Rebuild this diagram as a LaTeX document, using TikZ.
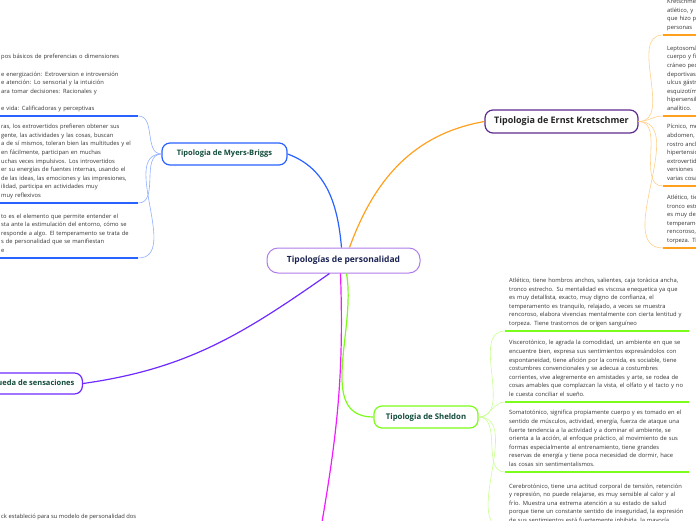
\documentclass[tikz,border=0pt]{standalone}
\usepackage{fontspec}
\setmainfont{Open Sans}
\usepackage{tikz}
\definecolor{rootline}{HTML}{B07CE8}
\definecolor{roottext}{HTML}{1C2452}
\definecolor{topictext}{HTML}{114B3A}
\definecolor{bodytext}{HTML}{333333}
\definecolor{mbblue}{HTML}{2962FF}
\definecolor{mbsoft}{HTML}{8FAFFF}
\definecolor{krorange}{HTML}{FFA01E}
\definecolor{krsoft}{HTML}{FFD08A}
\definecolor{krframe}{HTML}{5E2A8E}
\definecolor{shgreen}{HTML}{7CFC1A}
\definecolor{shsoft}{HTML}{C8FF90}
\definecolor{bsviolet}{HTML}{6F2BFF}
\definecolor{eymagenta}{HTML}{F01CFF}

\begin{document}
\begin{tikzpicture}[x=1pt, y=1pt,
  topic/.style={draw, line width=1.2pt, rounded corners=8pt, fill=white, inner sep=2pt, minimum height=22pt, text=topictext, font=\fontsize{7.5}{9}\selectfont\bfseries},
  block/.style={anchor=south west, align=left, text width=#1, inner xsep=4pt, inner ysep=2.8pt, text=bodytext, font=\fontsize{5.8}{8.6}\selectfont, execute at end node=\strut},
  block/.default=150pt,
  branch/.style={line width=1.2pt},
  twig/.style={line width=0.6pt},
  underbar/.style={line width=2pt}]
  \useasboundingbox (0,0) rectangle (696,-520);

  \node[topic, draw=rootline, line width=1pt, rounded corners=11pt, minimum width=153pt, minimum height=25pt, text=roottext, font=\fontsize{8.5}{10}\selectfont\bfseries] (ctr) at (343.5,-260.5) {Tipologías de personalidad};
  \node[topic, draw=mbblue, minimum width=125pt] (mb) at (224.5,-154) {Tipologia de Myers-Briggs};
  \node[topic, draw=krframe, minimum width=153pt, minimum height=23pt, text=bodytext!70!black, font=\fontsize{9}{11}\selectfont\bfseries] (kr) at (561.5,-121.5) {Tipologia de Ernst Kretschmer};
  \node[topic, draw=shgreen, minimum width=104pt, font=\fontsize{7.8}{9}\selectfont\bfseries] (sh) at (426,-417) {Tipologia de Sheldon};
  \node[topic, draw=bsviolet, anchor=east, minimum height=21pt, inner xsep=8pt] (bs) at (83,-383.5) {Búsqueda de sensaciones};
  \coordinate (ey) at (318,-545);

  \draw[branch, mbblue] ([xshift=-2pt]ctr.north) to[out=95, in=-20] (mb.east);
  \draw[branch, krorange] ([xshift=6pt]ctr.north) to[out=70, in=190] (kr.west);
  \draw[branch, bsviolet] ([xshift=-14pt]ctr.south) to[out=215, in=8] (bs.east);
  \draw[branch, eymagenta] ([xshift=-3pt]ctr.south) to[out=-88, in=80] (ey);
  \draw[branch, shgreen] ([xshift=3pt]ctr.south) to[out=-80, in=180] (sh.west);

  \node[block=133pt] (mb1) at (-3,-116) {pos básicos de preferencias o dimensiones\\ \mbox{}\\ e energización: Extroversion e introversión\\ e atención: Lo sensorial y la intuición\\ ara tomar decisiones: Racionales y\\ \mbox{}\\ e vida: Calificadoras y perceptivas};
  \node[block=133pt] (mb2) at (-3,-203) {ras, los extrovertidos prefieren obtener sus\\ gente, las actividades y las cosas, buscan\\ a de sí mismos, toleran bien las multitudes y el\\ en fácilmente, participan en muchas\\ uchas veces impulsivos. Los introvertidos\\ er su energías de fuentes internas, usando el\\ de las ideas, las emociones y las impresiones,\\ ilidad, participa en actividades muy\\ muy reflexivos};
  \node[block=133pt] (mb3) at (-3,-258) {to es el elemento que permite entender el\\ sta ante la estimulación del entorno, cómo se\\ responde a algo. El temperamento se trata de\\ s de personalidad que se manifiestan\\ e};

  \node[block] (k1) at (663,-35) {Kretschmer\\ atlético, y\\ que hizo para\\ personas};
  \node[block] (k2) at (663,-116) {Leptosomático,\\ cuerpo y figura\\ cráneo pequeño\\ deportivas\\ ulcus gástrico\\ esquizotímico\\ hipersensible\\ analítico.};
  \node[block] (k3) at (663,-186) {Pícnico, mediana\\ abdomen,\\ rostro ancho\\ hipertensión\\ extrovertido\\ versiones\\ varias cosas};
  \node[block] (k4) at (663,-248) {Atlético, tiene hombros\\ tronco estrecho.\\ es muy detallista\\ temperamento\\ rencoroso, elabora\\ torpeza. Tiene};

  \node[block=176pt] (s1) at (505,-331) {Atlético, tiene hombros anchos, salientes, caja torácica ancha,\\ tronco estrecho. Su mentalidad es viscosa enequetica ya que\\ es muy detallista, exacto, muy digno de confianza, el\\ temperamento es tranquilo, relajado, a veces se muestra\\ rencoroso, elabora vivencias mentalmente con cierta lentitud y\\ torpeza. Tiene trastornos de origen sanguíneo};
  \node[block=176pt] (s2) at (505,-402) {Viscerotónico, le agrada la comodidad, un ambiente en que se\\ encuentre bien, expresa sus sentimientos expresándolos con\\ espontaneidad, tiene afición por la comida, es sociable, tiene\\ costumbres convencionales y se adecua a costumbres\\ corrientes, vive alegremente en amistades y arte, se rodea de\\ cosas amables que complazcan la vista, el olfato y el tacto y no\\ le cuesta conciliar el sueño.};
  \node[block=176pt] (s3) at (505,-472) {Somatotónico, significa propiamente cuerpo y es tomado en el\\ sentido de músculos, actividad, energía, fuerza de ataque una\\ fuerte tendencia a la actividad y a dominar el ambiente, se\\ orienta a la acción, al enfoque práctico, al movimiento de sus\\ formas especialmente al entrenamiento, tiene grandes\\ reservas de energía y tiene poca necesidad de dormir, hace\\ las cosas sin sentimentalismos.};
  \node[block=176pt] (s4) at (505,-528) {Cerebrotónico, tiene una actitud corporal de tensión, retención\\ y represión, no puede relajarse, es muy sensible al calor y al\\ frío. Muestra una extrema atención a su estado de salud\\ porque tiene un constante sentido de inseguridad, la expresión\\ de sus sentimientos está fuertemente inhibida, la mayoría};

  \node[anchor=base west, inner sep=0pt, text=bodytext, font=\fontsize{5.8}{8.6}\selectfont] (eytext) at (1,-518) {ck estableció para su modelo de personalidad dos};

  \foreach \b in {mb1,mb2,mb3}
    \draw[twig, mbsoft] (mb.west) to[out=180, in=0] (\b.south east);
  \foreach \b in {k1,k2,k3,k4}
    \draw[twig, krsoft] (kr.east) to[out=0, in=180] (\b.south west);
  \foreach \b in {s1,s2,s3,s4}
    \draw[twig, shsoft] (sh.east) to[out=0, in=180] (\b.south west);

  \foreach \b in {mb1,mb2,mb3}
    \draw[underbar, mbblue] (\b.south west) -- (\b.south east);
  \foreach \b in {k1,k2,k3,k4}
    \draw[underbar, krorange] (\b.south west) -- (\b.south east);
  \foreach \b in {s1,s2,s3,s4}
    \draw[underbar, shgreen] (\b.south west) -- (\b.south east);
\end{tikzpicture}
\end{document}
